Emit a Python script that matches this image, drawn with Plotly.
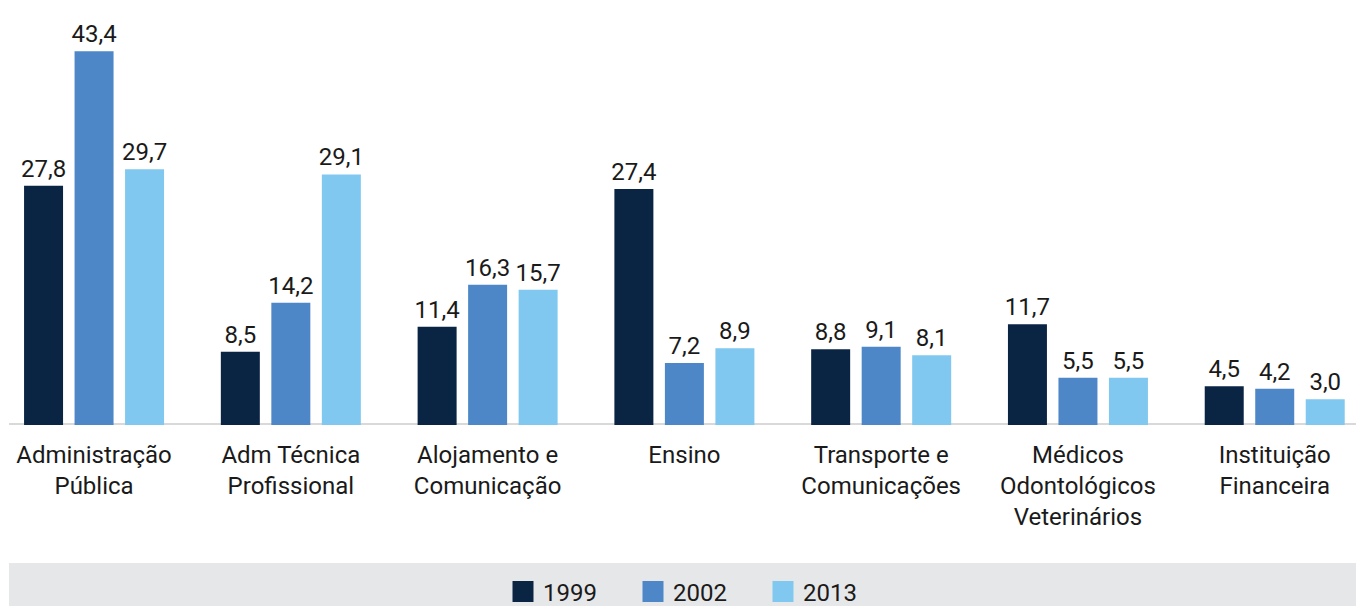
import plotly.graph_objects as go

categories = [
    "Administração<br>Pública",
    "Adm Técnica<br>Profissional",
    "Alojamento e<br>Comunicação",
    "Ensino",
    "Transporte e<br>Comunicações",
    "Médicos<br>Odontológicos<br>Veterinários",
    "Instituição<br>Financeira",
]
years = ["1999", "2002", "2013"]
v1999 = [27.8, 8.5, 11.4, 27.4, 8.8, 11.7, 4.5]
v2002 = [43.4, 14.2, 16.3, 7.2, 9.1, 5.5, 4.2]
v2013 = [29.7, 29.1, 15.7, 8.9, 8.1, 5.5, 3.0]
colors = ["#0a2443", "#4d87c7", "#80c8f0"]

FONT = "Roboto, sans-serif"
TXT = "#1a1a1a"

fig = go.Figure()
for name, vals, col in zip(years, [v1999, v2002, v2013], colors):
    fig.add_trace(go.Bar(
        x=categories, y=vals, name=name,
        marker=dict(color=col, line=dict(width=0)),
        text=[f"{v:.1f}".replace(".", ",") for v in vals],
        textposition="outside", cliponaxis=False, constraintext="none",
        textfont=dict(family=FONT, size=24, color=TXT),
        showlegend=False,
    ))
    # legend entries (scatter squares are drawn larger than bar swatches)
    fig.add_trace(go.Scatter(
        x=[None], y=[None], mode="markers", name=name,
        marker=dict(symbol="square", size=16, color=col, line=dict(color=col, width=5)),
        showlegend=True,
    ))

# grey baseline band
fig.add_shape(type="rect", xref="paper", yref="y", x0=9 / 1356, x1=1, y0=-0.7, y1=0.23,
              fillcolor="#d9d9d9", line_width=0, layer="below")
# grey legend band
fig.add_shape(type="rect", xref="paper", yref="paper", x0=9 / 1356, x1=1, y0=0, y1=43 / 606,
              fillcolor="#e6e7e8", line_width=0, layer="below")

fig.update_layout(
    width=1356, height=606,
    margin=dict(l=0, r=0, t=0, b=0, autoexpand=False),
    paper_bgcolor="white", plot_bgcolor="white",
    barmode="group", bargap=0.23, bargroupgap=0.228,
    font=dict(family=FONT, size=24, color=TXT),
    legend=dict(orientation="h", x=0.5 + 20 / 1356, xanchor="center", y=14 / 606, yanchor="middle",
                bgcolor="rgba(0,0,0,0)", font=dict(family=FONT, size=24, color=TXT),
                itemclick=False, entrywidth=85),
    xaxis=dict(range=[-0.478, 6.413], showgrid=False, zeroline=False, showline=False,
               ticks="", ticklabelstandoff=13,
               tickfont=dict(family=FONT, size=24, color=TXT), fixedrange=True),
    yaxis=dict(domain=[1 - 425 / 606, 1], range=[0, 425 / 8.61], visible=False, fixedrange=True),
)

fig.write_html("out.html", config={"displayModeBar": False},
               post_script="document.body.style.margin='0';")
